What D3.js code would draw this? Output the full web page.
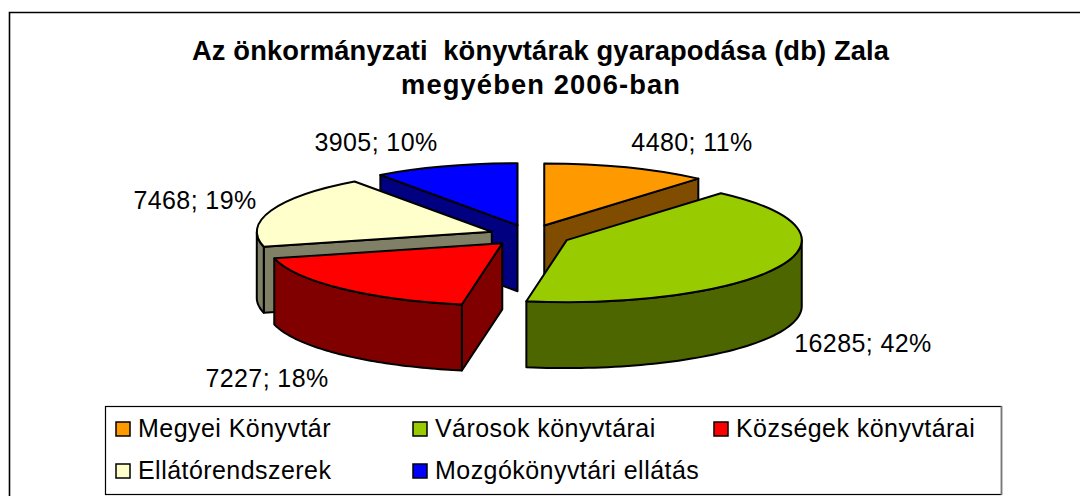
<!DOCTYPE html>
<html><head><meta charset="utf-8">
<script src="https://cdn.jsdelivr.net/npm/d3@7/dist/d3.min.js"></script>
<style>html,body{margin:0;padding:0;background:#fff}svg{display:block}text{font-family:"Liberation Sans",Arial,sans-serif;fill:#000;white-space:pre}</style>
</head><body><svg id="c" width="1080" height="496"></svg>
<script>
const categories = ["Megyei Könyvtár","Városok könyvtárai","Községek könyvtárai","Ellátórendszerek","Mozgókönyvtári ellátás"];
const values = [4480,16285,7227,7468,3905];
const percents = [11,42,18,19,10];
const topColors = ["#FF9900","#99CC00","#FF0000","#FFFFCC","#0000FF"];
const sideColors = ["#804D00","#4D6600","#800000","#808066","#000080"];
const titleLines = ["Az önkormányzati  könyvtárak gyarapodása (db) Zala","megyében 2006-ban"];
const titleWidths = [697,279];
const labelPos = [[692,151],[863,352],[267,387],[195,209],[376,151]];
const legendPos = [[116,422],[413,422],[714,422],[116,464],[413,464]];

const svg = d3.select("#c");
svg.append("path").attr("d","M1080,12.5H9.5V496").attr("fill","none").attr("stroke","#000").attr("stroke-width",1.6);
svg.selectAll("text.t").data(titleLines).join("text").attr("class","t").attr("x",540.5).attr("y",(d,i)=>60+i*34)
  .attr("text-anchor","middle").attr("font-size",27.3).attr("font-weight","bold")
  .attr("textLength",(d,i)=>titleWidths[i]).attr("lengthAdjust","spacing").text(d=>d);

const cx=530, cy=235.5, rx=235, ry=62, depth=66, explode=40.7;
const sx=d3.scaleLinear().domain([-1,1]).range([-rx,rx]);
const sy=d3.scaleLinear().domain([-1,1]).range([-ry,ry]);
const arcs=d3.pie().sort(null)(values);
const unitArc=d3.arc().innerRadius(0).outerRadius(1);
const slices=arcs.map(a=>{
  const mid=(a.startAngle+a.endAngle)/2;
  return {...a,ax:cx+sx(explode/rx*Math.sin(mid)),ay:cy-sy(explode/rx*Math.cos(mid))};
});
const pt=(s,t)=>[s.ax+sx(Math.sin(t)),s.ay-sy(Math.cos(t))];
const line=d3.line();
function wallPath(s){
  const a=Math.max(s.startAngle,Math.PI/2), b=Math.min(s.endAngle,1.5*Math.PI);
  if(b<=a) return null;
  const top=d3.range(0,61).map(i=>pt(s,a+(b-a)*i/60));
  const bot=top.slice().reverse().map(p=>[p[0],p[1]+depth]);
  return line(top.concat(bot))+"Z";
}
function cutPath(s,t){
  const r=pt(s,t);
  return line([[s.ax,s.ay],r,[r[0],r[1]+depth],[s.ax,s.ay+depth]])+"Z";
}
const order=[4,0,3,1,2];
const g=svg.append("g").attr("stroke","#000").attr("stroke-width",2).attr("stroke-linejoin","round");
order.forEach(i=>{
  const s=slices[i];
  const G=g.append("g");
  if(i===0) G.append("path").attr("d",cutPath(s,s.endAngle)).attr("fill",sideColors[i]);
  if(i>=2) G.append("path").attr("d",cutPath(s,s.startAngle)).attr("fill",sideColors[i]);
  const w=wallPath(s);
  if(w) G.append("path").attr("d",w).attr("fill",sideColors[i]);
  G.append("path").attr("d",unitArc(s)).attr("transform",`translate(${s.ax},${s.ay}) scale(${rx},${ry})`)
    .attr("vector-effect","non-scaling-stroke").attr("fill",topColors[i]);
});

svg.selectAll("text.l").data(values).join("text").attr("class","l")
  .attr("x",(d,i)=>labelPos[i][0]).attr("y",(d,i)=>labelPos[i][1]).attr("text-anchor","middle")
  .attr("font-size",25).attr("letter-spacing",0.4).text((d,i)=>`${d}; ${percents[i]}%`);

svg.append("rect").attr("x",105.5).attr("y",406.5).attr("width",896).attr("height",88).attr("fill","#fff").attr("stroke","#000").attr("stroke-width",1.2);
svg.append("line").attr("x1",1001.5).attr("x2",1001.5).attr("y1",406).attr("y2",495).attr("stroke","#777").attr("stroke-width",1.6);
svg.selectAll("rect.k").data(categories).join("rect").attr("class","k")
  .attr("x",(d,i)=>legendPos[i][0]).attr("y",(d,i)=>legendPos[i][1]).attr("width",14).attr("height",14)
  .attr("fill",(d,i)=>topColors[i]).attr("stroke","#000").attr("stroke-width",1.5);
svg.selectAll("text.e").data(categories).join("text").attr("class","e")
  .attr("x",(d,i)=>legendPos[i][0]+22).attr("y",(d,i)=>legendPos[i][1]+15).attr("font-size",25).attr("letter-spacing",0.45).text(d=>d);
</script></body></html>
